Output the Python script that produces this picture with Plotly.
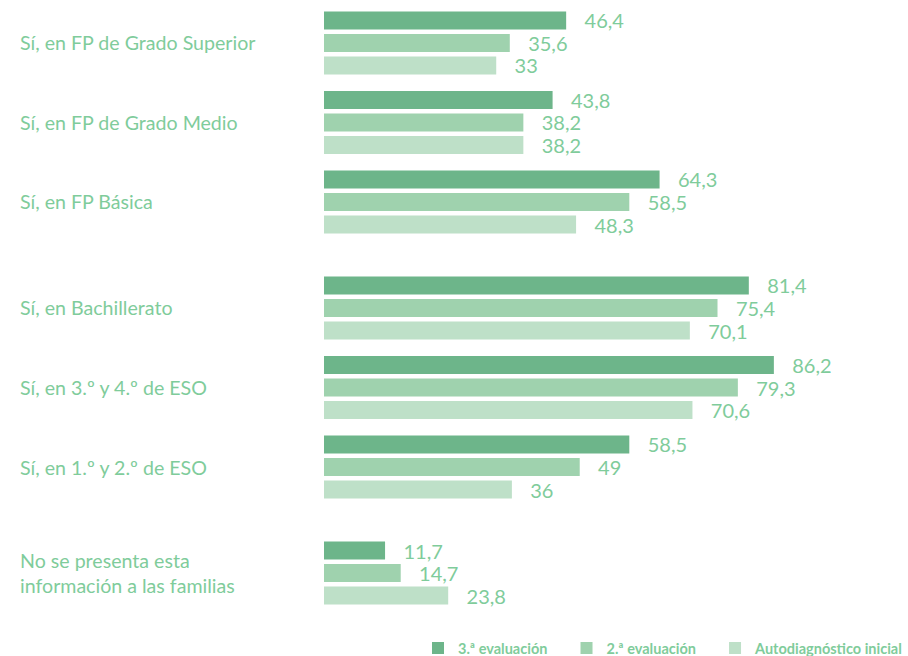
import plotly.graph_objects as go

CATEGORIES = [
    "Sí, en FP de Grado Superior",
    "Sí, en FP de Grado Medio",
    "Sí, en FP Básica",
    "Sí, en Bachillerato",
    "Sí, en 3.º y 4.º de ESO",
    "Sí, en 1.º y 2.º de ESO",
    "No se presenta esta<br>información a las familias",
]
SERIES = ["3.ª evaluación", "2.ª evaluación", "Autodiagnóstico inicial"]
EVAL_3 = [46.4, 43.8, 64.3, 81.4, 86.2, 58.5, 11.7]
EVAL_2 = [35.6, 38.2, 58.5, 75.4, 79.3, 49, 14.7]
AUTODIAG = [33, 38.2, 48.3, 70.1, 70.6, 36, 23.8]

COLORS = ["#6db58a", "#9fd2ae", "#bee0c8"]
TEXT_COLOR = "#7fcc9b"
FONT = "Lato"

# extra space before the groups that start a new block
BREAKS = [3, 6]
EXTRA_GAP = 1 / 3
positions = []
for i in range(len(CATEGORIES)):
    positions.append(i + EXTRA_GAP * sum(1 for b in BREAKS if i >= b))


def fmt(v):
    s = ("%g" % v).replace(".", ",")
    return "\u00a0\u00a0\u00a0" + s


fig = go.Figure()
for k, (name, vals, color) in enumerate(zip(SERIES, [EVAL_3, EVAL_2, AUTODIAG], COLORS)):
    # pad legend entries so they spread out like the original
    pad = "\u00a0" * 4 if k < len(SERIES) - 1 else ""
    fig.add_trace(go.Bar(
        name=name + pad,
        x=vals,
        y=positions,
        orientation="h",
        marker=dict(color=color, line=dict(width=0)),
        text=[fmt(v) for v in vals],
        textposition="outside",
        constraintext="none",
        textfont=dict(family=FONT, size=20, color=TEXT_COLOR),
        cliponaxis=False,
        hoverinfo="skip",
    ))

for pos, label in zip(positions, CATEGORIES):
    fig.add_annotation(
        x=(18 - 324) / 584, xref="paper", xanchor="left",
        y=pos, yref="y", yanchor="middle",
        text=label, showarrow=False, align="left",
        font=dict(family=FONT, size=19.6, color=TEXT_COLOR),
    )

fig.update_layout(
    width=908, height=656,
    margin=dict(l=324, r=0, t=0, b=0, autoexpand=False),
    paper_bgcolor="white", plot_bgcolor="white",
    barmode="group", bargap=0.15, bargroupgap=0.2,
    font=dict(family=FONT, color=TEXT_COLOR),
    legend=dict(
        orientation="h", x=1, xanchor="right",
        y=0.012, yanchor="middle",
        font=dict(family=FONT, size=14.5, color=TEXT_COLOR, weight="bold"),
        traceorder="normal", bgcolor="rgba(0,0,0,0)",
    ),
)
fig.update_xaxes(range=[0, 111.9], visible=False, fixedrange=True)
fig.update_yaxes(range=[7.71, -0.54], visible=False, fixedrange=True)

fig.write_html(
    "out.html",
    config={"displayModeBar": False},
    post_script="document.body.style.margin='0';",
)
